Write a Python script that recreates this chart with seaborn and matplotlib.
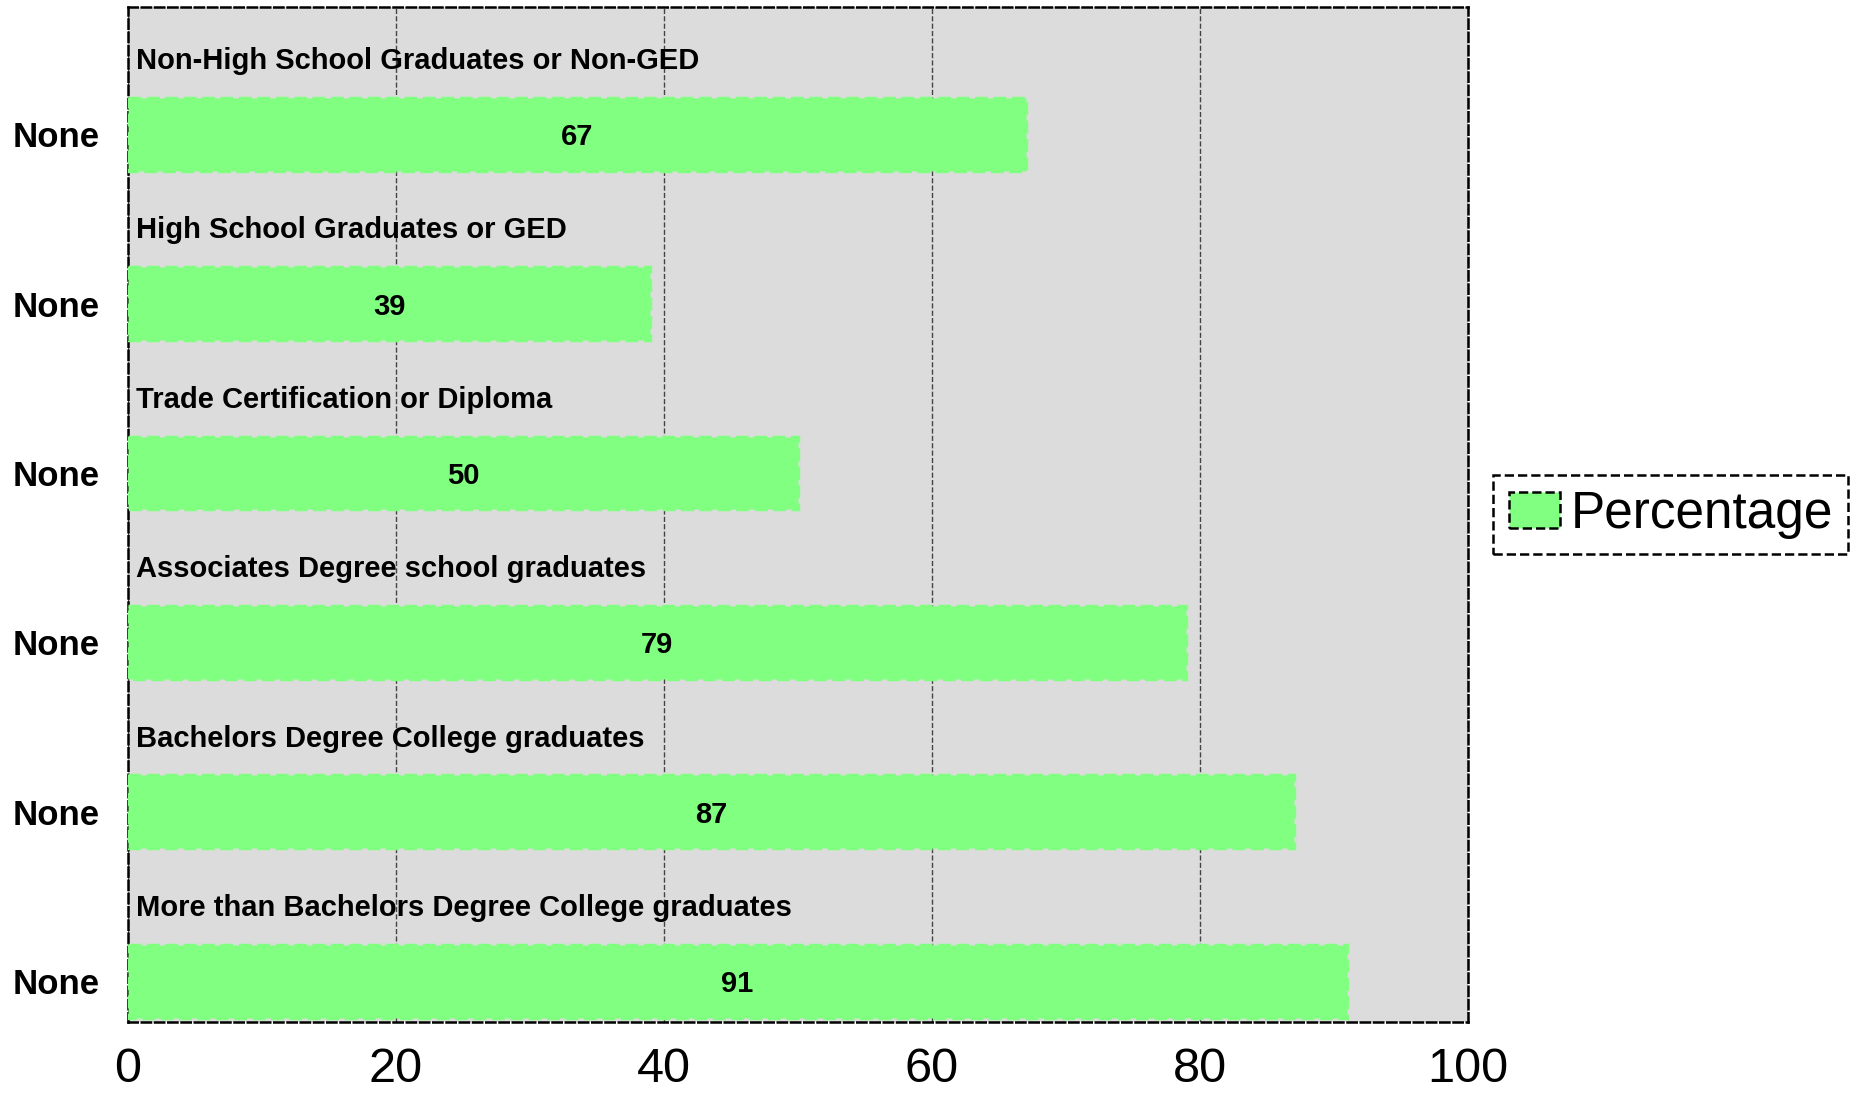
import matplotlib
matplotlib.use("Agg")
import matplotlib.pyplot as plt
from matplotlib.patches import Patch
import seaborn as sns
import pandas as pd

# chart data
categories = [
    "Non-High School Graduates or Non-GED",
    "High School Graduates or GED",
    "Trade Certification or Diploma",
    "Associates Degree school graduates",
    "Bachelors Degree College graduates",
    "More than Bachelors Degree College graduates",
]
percentages = [67, 39, 50, 79, 87, 91]
tick_labels = ["None", "None", "None", "None", "None", "None"]
x_ticks = [0, 20, 40, 60, 80, 100]
series_name = "Percentage"

bar_color = "#80FF80"

sns.set_style("white", {"axes.facecolor": "#DCDCDC", "text.color": "black",
                        "xtick.color": "black", "ytick.color": "black"})
plt.rcParams["font.family"] = ["Liberation Sans", "DejaVu Sans"]
plt.rcParams["legend.facecolor"] = "white"

df = pd.DataFrame({"category": categories, "value": percentages})

fig = plt.figure(figsize=(18.62, 10.95), dpi=100)
ax = fig.add_axes([0.0687, 0.0667, 0.7196, 0.9269])

sns.barplot(
    data=df, y="category", x="value", orient="h", ax=ax,
    color=bar_color, saturation=1, width=0.43,
    edgecolor=bar_color, linestyle="--", linewidth=2.5, zorder=3,
)

# labels above each bar and values inside
for i, (cat, val) in enumerate(zip(categories, percentages)):
    ax.text(0.6, i - 0.45, cat, ha="left", va="center_baseline",
            fontsize=21, fontweight="bold", color="black", zorder=4)
    ax.text(val / 2, i, str(val), ha="center", va="center_baseline",
            fontsize=21, fontweight="bold", color="black", zorder=4)

ax.set_xlim(0, 100)
ax.set_ylim(5.24, -0.75)
ax.set_xticks(x_ticks)
ax.set_xticklabels([str(t) for t in x_ticks], fontsize=35, color="black")
ax.set_yticks(range(len(categories)))
ax.set_yticklabels(tick_labels, fontsize=25, fontweight="bold", color="black")
ax.tick_params(axis="x", length=0, pad=18)
ax.tick_params(axis="y", length=0, pad=20)
ax.set_xlabel("")
ax.set_ylabel("")

ax.grid(axis="x", color="#444444", linestyle="--", linewidth=1, zorder=1)
ax.grid(axis="y", visible=False)
ax.set_axisbelow(True)

for sp in ax.spines.values():
    sp.set_visible(True)
    sp.set_linestyle("--")
    sp.set_linewidth(1.8)
    sp.set_color("black")

handle = Patch(facecolor=bar_color, edgecolor="black", linestyle="--",
               linewidth=1.8, label=series_name)
leg = ax.legend(handles=[handle], loc="center left",
                bbox_to_anchor=(1.019, 0.5), borderaxespad=0,
                fontsize=37, fancybox=False, framealpha=1,
                handlelength=1.0, handletextpad=0.2, borderpad=0.3,
                labelcolor="black")
leg.get_frame().set_facecolor("white")
leg.get_frame().set_edgecolor("black")
leg.get_frame().set_linestyle("--")
leg.get_frame().set_linewidth(1.8)

fig.savefig("out.png", dpi=100)
